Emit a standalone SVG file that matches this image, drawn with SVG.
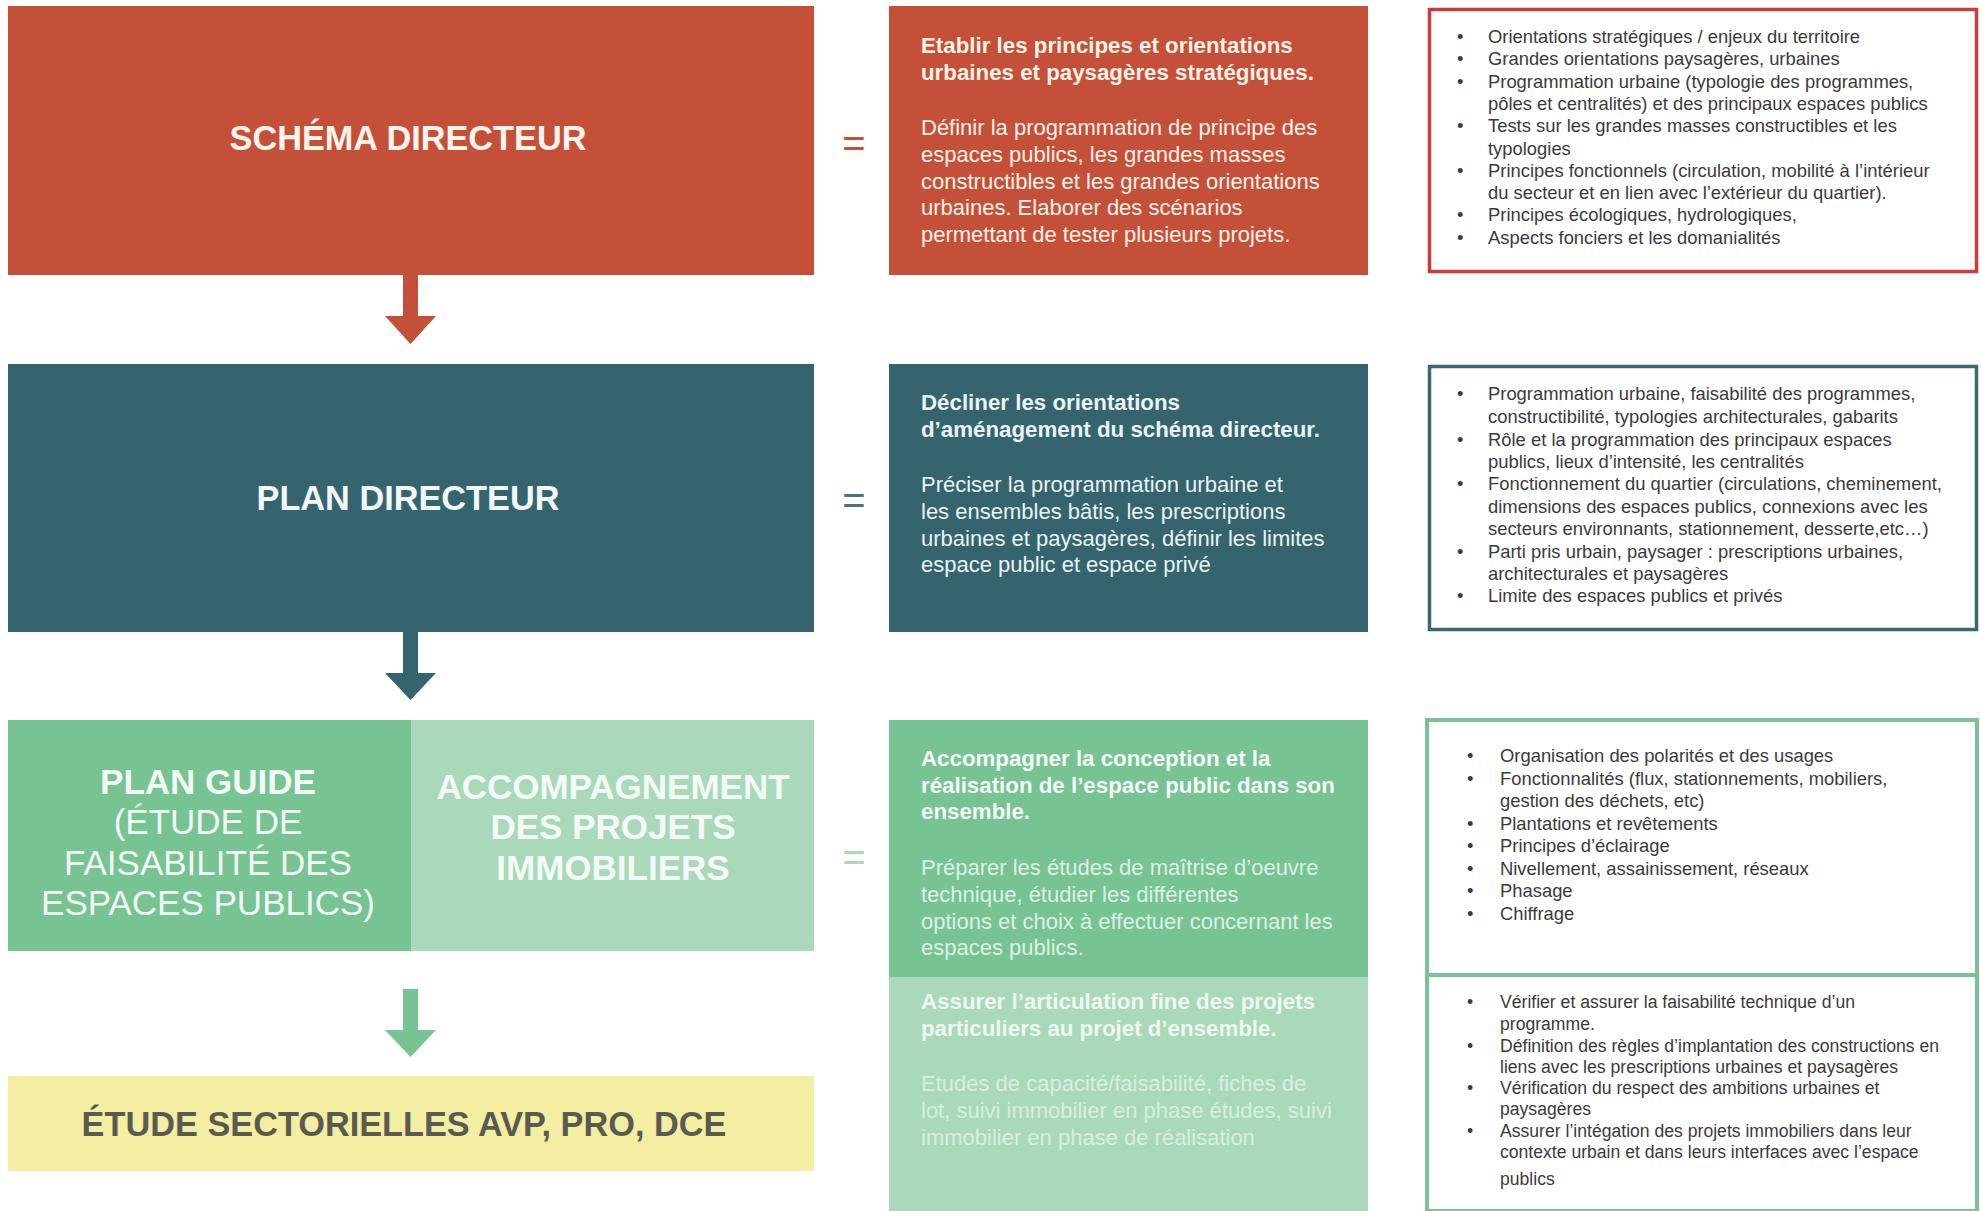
<svg xmlns="http://www.w3.org/2000/svg" width="1981" height="1211" viewBox="0 0 1981 1211">
<style>
text{font-family:"Liberation Sans",Arial,Helvetica,sans-serif}
.title{font-weight:bold;font-size:34.3px;text-anchor:middle}
.big{font-size:35px;text-anchor:middle}
.b{font-weight:bold}
.mb{font-weight:bold;font-size:22.3px}
.mr{font-size:22px}
.li{font-size:18.4px;fill:#3a3a3a}
.li2{font-size:17.6px;fill:#3a3a3a}
.eq{font-size:40px;text-anchor:middle}
</style>
<rect width="1981" height="1211" fill="#ffffff"/>

<!-- Row 1 -->
<g id="schema-directeur">
<rect x="8" y="6" width="806" height="269" fill="#C5503A"/>
<text class="title" x="408" y="150" fill="#FFF5EA">SCHÉMA DIRECTEUR</text>
</g>
<g id="schema-desc">
<rect x="889" y="6" width="479" height="269" fill="#C5503A"/>
<g fill="#FFF3E6">
<text class="mb" x="921" y="53">Etablir les principes et orientations</text>
<text class="mb" x="921" y="79.5">urbaines et paysagères stratégiques.</text>
<text class="mr" x="921" y="135">Définir la programmation de principe des</text>
<text class="mr" x="921" y="162">espaces publics, les grandes masses</text>
<text class="mr" x="921" y="188.5">constructibles et les grandes orientations</text>
<text class="mr" x="921" y="215">urbaines. Elaborer des scénarios</text>
<text class="mr" x="921" y="242">permettant de tester plusieurs projets.</text>
</g>
</g>
<g id="schema-list">
<rect x="1429.5" y="9.5" width="547" height="262" fill="#ffffff" stroke="#CB3B3B" stroke-width="3.5"/>
<g class="li">
<text x="1457" y="43">•</text><text x="1488" y="43">Orientations stratégiques / enjeux du territoire</text>
<text x="1457" y="65.3">•</text><text x="1488" y="65.3">Grandes orientations paysagères, urbaines</text>
<text x="1457" y="87.6">•</text><text x="1488" y="87.6">Programmation  urbaine (typologie des programmes,</text>
<text x="1488" y="109.9">pôles et centralités) et des principaux espaces publics</text>
<text x="1457" y="132.2">•</text><text x="1488" y="132.2">Tests sur les grandes masses constructibles et les</text>
<text x="1488" y="154.5">typologies</text>
<text x="1457" y="176.8">•</text><text x="1488" y="176.8">Principes fonctionnels (circulation, mobilité  à l’intérieur</text>
<text x="1488" y="199.1">du secteur et en lien avec l’extérieur du quartier).</text>
<text x="1457" y="221.4">•</text><text x="1488" y="221.4">Principes écologiques, hydrologiques,</text>
<text x="1457" y="243.7">•</text><text x="1488" y="243.7">Aspects fonciers et les domanialités</text>
</g>
</g>
<text class="eq" x="854" y="157" fill="#C5503A">=</text>

<!-- Row 2 -->
<g id="plan-directeur">
<rect x="8" y="364" width="806" height="268" fill="#35646F"/>
<text class="title" x="408" y="510" fill="#F2F8F8">PLAN DIRECTEUR</text>
</g>
<g id="plan-desc">
<rect x="889" y="364" width="479" height="268" fill="#35646F"/>
<g fill="#EAF4F4">
<text class="mb" x="921" y="410">Décliner les orientations</text>
<text class="mb" x="921" y="436.5">d’aménagement  du schéma directeur.</text>
<text class="mr" x="921" y="492">Préciser la programmation urbaine et</text>
<text class="mr" x="921" y="519">les ensembles bâtis, les prescriptions</text>
<text class="mr" x="921" y="545.5">urbaines et paysagères, définir les limites</text>
<text class="mr" x="921" y="572">espace public et espace privé</text>
</g>
</g>
<g id="plan-list">
<rect x="1429.5" y="366.5" width="547" height="263" fill="#ffffff" stroke="#3D6871" stroke-width="3.5"/>
<g class="li">
<text x="1457" y="400">•</text><text x="1488" y="400">Programmation  urbaine, faisabilité des programmes,</text>
<text x="1488" y="423">constructibilité, typologies architecturales, gabarits</text>
<text x="1457" y="446">•</text><text x="1488" y="446">Rôle et la programmation des principaux espaces</text>
<text x="1488" y="468">publics, lieux d’intensité, les centralités</text>
<text x="1457" y="490">•</text><text x="1488" y="490">Fonctionnement du quartier (circulations, cheminement,</text>
<text x="1488" y="513">dimensions des espaces publics, connexions avec les</text>
<text x="1488" y="535">secteurs environnants, stationnement, desserte,etc…)</text>
<text x="1457" y="558">•</text><text x="1488" y="558">Parti pris urbain, paysager : prescriptions urbaines,</text>
<text x="1488" y="580">architecturales et paysagères</text>
<text x="1457" y="602">•</text><text x="1488" y="602">Limite des espaces publics et privés</text>
</g>
</g>
<text class="eq" x="854" y="514" fill="#4A7580">=</text>

<!-- Row 3 -->
<g id="plan-guide">
<rect x="8" y="720" width="403" height="231" fill="#77C394"/>
<g fill="#F2FAF4">
<text class="big b" x="208" y="793.5">PLAN GUIDE</text>
<text class="big" x="208" y="833.5">(ÉTUDE DE</text>
<text class="big" x="208" y="874.5">FAISABILITÉ DES</text>
<text class="big" x="208" y="914.5">ESPACES PUBLICS)</text>
</g>
</g>
<g id="accompagnement">
<rect x="411" y="720" width="403" height="231" fill="#A9D9BA"/>
<g fill="#F4FBF6">
<text class="big b" x="613" y="798.5">ACCOMPAGNEMENT</text>
<text class="big b" x="613" y="838.5">DES PROJETS</text>
<text class="big b" x="613" y="879.5">IMMOBILIERS</text>
</g>
</g>
<text class="eq" x="854" y="871" fill="#A9D9BA">=</text>
<g id="guide-desc">
<rect x="889" y="720" width="479" height="257" fill="#77C394"/>
<g fill="#F4FBF6">
<text class="mb" x="921" y="766">Accompagner  la conception et la</text>
<text class="mb" x="921" y="792.5">réalisation de l’espace public dans son</text>
<text class="mb" x="921" y="819">ensemble.</text>
</g>
<g fill="#DDF1E4">
<text class="mr" x="921" y="875">Préparer les études de maîtrise d’oeuvre</text>
<text class="mr" x="921" y="902">technique, étudier les différentes</text>
<text class="mr" x="921" y="928.5">options et choix à effectuer concernant les</text>
<text class="mr" x="921" y="955">espaces publics.</text>
</g>
</g>
<g id="accomp-desc">
<rect x="889" y="977" width="479" height="234" fill="#A9D9BA"/>
<g fill="#EEF8F1">
<text class="mb" x="921" y="1009">Assurer l’articulation fine des projets</text>
<text class="mb" x="921" y="1035.5">particuliers au projet d’ensemble.</text>
</g>
<g fill="#D6EFDF">
<text class="mr" x="921" y="1091">Etudes de capacité/faisabilité, fiches de</text>
<text class="mr" x="921" y="1118">lot, suivi immobilier en phase études, suivi</text>
<text class="mr" x="921" y="1144.5">immobilier en phase de réalisation</text>
</g>
</g>
<g id="guide-list">
<rect x="1427" y="720" width="550" height="255" fill="#ffffff" stroke="#7DC296" stroke-width="4"/>
<g class="li">
<text x="1467" y="762">•</text><text x="1500" y="762">Organisation des polarités et des usages</text>
<text x="1467" y="784.5">•</text><text x="1500" y="784.5">Fonctionnalités (flux, stationnements, mobiliers,</text>
<text x="1500" y="807">gestion des déchets, etc)</text>
<text x="1467" y="829.5">•</text><text x="1500" y="829.5">Plantations et revêtements</text>
<text x="1467" y="852">•</text><text x="1500" y="852">Principes d’éclairage</text>
<text x="1467" y="874.5">•</text><text x="1500" y="874.5">Nivellement, assainissement, réseaux</text>
<text x="1467" y="897">•</text><text x="1500" y="897">Phasage</text>
<text x="1467" y="919.5">•</text><text x="1500" y="919.5">Chiffrage</text>
</g>
</g>
<g id="accomp-list">
<rect x="1427" y="975" width="550" height="236" fill="#ffffff" stroke="#7DC296" stroke-width="4"/>
<g class="li2">
<text x="1467" y="1008">•</text><text x="1500" y="1008">Vérifier et assurer la faisabilité technique  d’un</text>
<text x="1500" y="1030">programme.</text>
<text x="1467" y="1052">•</text><text x="1500" y="1052">Définition des règles d’implantation des constructions en</text>
<text x="1500" y="1073">liens avec les prescriptions urbaines et paysagères</text>
<text x="1467" y="1094">•</text><text x="1500" y="1094">Vérification du respect des ambitions urbaines et</text>
<text x="1500" y="1115">paysagères</text>
<text x="1467" y="1137">•</text><text x="1500" y="1137">Assurer l’intégation des projets immobiliers dans leur</text>
<text x="1500" y="1158">contexte urbain et dans leurs interfaces avec l’espace</text>
<text x="1500" y="1185">publics</text>
</g>
</g>

<!-- Row 4 -->
<g id="etude-sectorielles">
<rect x="8" y="1076" width="806" height="95" fill="#F3EEA2"/>
<text class="title" x="404" y="1136" fill="#5A5A52">ÉTUDE SECTORIELLES AVP, PRO, DCE</text>
</g>

<!-- Connectors -->
<g id="connectors">
<path d="M403 275 H418 V316 H436 L410.5 344 L385 316 H403 Z" fill="#C5503A"/>
<path d="M403 632 H418 V673 H436 L410.5 700 L385 673 H403 Z" fill="#35646F"/>
<path d="M403 989 H418 V1030 H436 L410.5 1057 L385 1030 H403 Z" fill="#77C394"/>
</g>
</svg>
